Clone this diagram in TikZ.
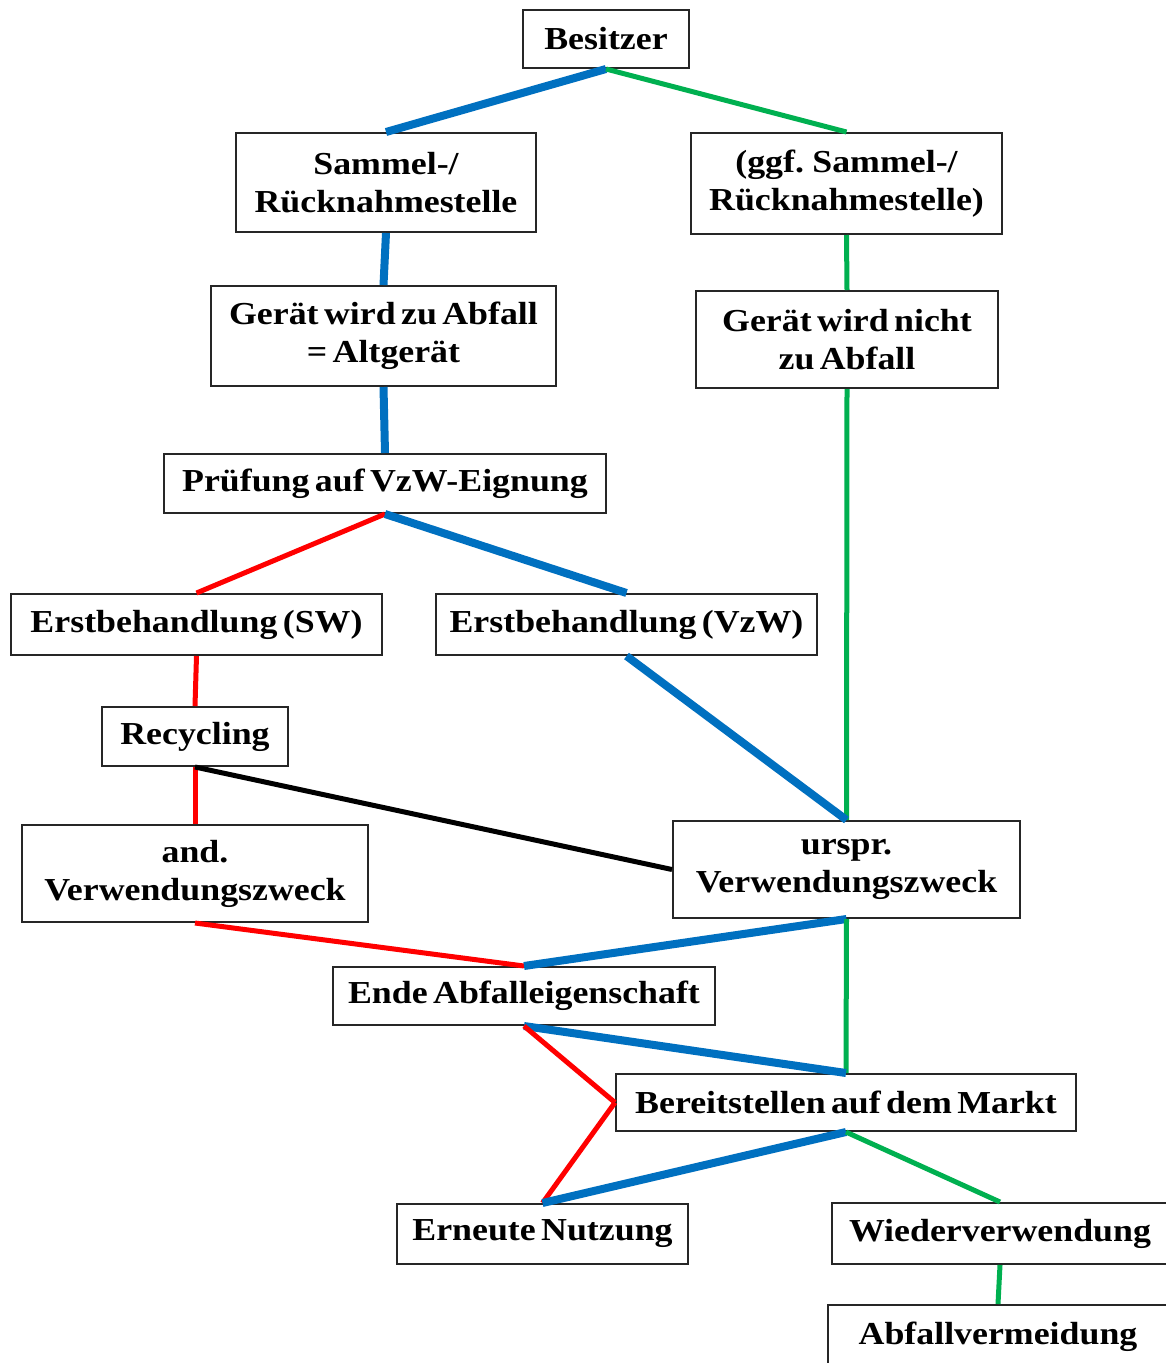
\documentclass[tikz,border=0pt]{standalone}
\usepackage{fontspec}
\setmainfont[WordSpace=0.6,FakeStretch=1.12]{Liberation Serif}
\definecolor{cblue}{RGB}{0,112,192}
\definecolor{cgreen}{RGB}{0,176,80}
\definecolor{cred}{RGB}{255,0,0}
\begin{document}
\begin{tikzpicture}[x=1pt,y=-1pt,
  box/.style={draw=black!85, line width=2pt, inner sep=0pt, align=center,
    font=\bfseries\fontsize{32}{38}\selectfont},
  bl/.style={draw=cblue, line width=8pt},
  gr/.style={draw=cgreen, line width=5pt},
  rd/.style={draw=cred, line width=5pt},
  bk/.style={draw=black, line width=5pt}]
\useasboundingbox (0,0) rectangle (1166,1363);
\fill[white] (0,0) rectangle (1166,1363);

\node[box, minimum width=166pt, minimum height=58pt] (bes) at (606,39) {Besitzer};
\node[box, minimum width=300pt, minimum height=99pt] (sam) at (386,182.5) {Sammel-/\\Rücknahmestelle};
\node[box, minimum width=311pt, minimum height=101pt] (ggf) at (846.5,183.5) {(ggf. Sammel-/\\Rücknahmestelle)};
\node[box, minimum width=345pt, minimum height=100pt] (alt) at (383.5,336) {Gerät wird zu Abfall\\= Altgerät};
\node[box, minimum width=302pt, minimum height=97pt] (nicht) at (847,339.5) {Gerät wird nicht\\zu Abfall};
\node[box, minimum width=442pt, minimum height=59pt] (pru) at (385,483.5) {Prüfung auf VzW-Eignung};
\node[box, minimum width=371pt, minimum height=61pt] (sw) at (196.5,624.5) {Erstbehandlung (SW)};
\node[box, minimum width=381pt, minimum height=61pt] (vzw) at (626.5,624.5) {Erstbehandlung (VzW)};
\node[box, minimum width=186pt, minimum height=59pt] (rec) at (195,736.5) {Recycling};
\node[box, minimum width=346pt, minimum height=97pt] (and) at (195,873.5) {and.\\Verwendungszweck};
\node[box, minimum width=347pt, minimum height=97pt] (urs) at (846.5,869.5) {urspr.\\Verwendungszweck};
\node[box, minimum width=382pt, minimum height=58pt] (ende) at (524,996) {Ende Abfalleigenschaft};
\node[box, minimum width=460pt, minimum height=57pt] (markt) at (846,1102.5) {Bereitstellen auf dem Markt};
\node[box, minimum width=291pt, minimum height=60pt] (ern) at (542.5,1234) {Erneute Nutzung};
\node[box, minimum width=336pt, minimum height=61pt] (wie) at (1000,1233.5) {Wiederverwendung};
\node[box, minimum width=340pt, minimum height=64pt] (vermeid) at (998,1337) {Abfallvermeidung};

\draw[bl] (bes.south) -- (sam.north);
\draw[gr] (bes.south) -- (ggf.north);
\draw[bl] (sam.south) -- (alt.north);
\draw[gr] (ggf.south) -- (nicht.north);
\draw[bl] (alt.south) -- (pru.north);
\draw[gr] (nicht.south) -- (urs.north);
\draw[rd] (pru.south) -- (sw.north);
\draw[bl] (pru.south) -- (vzw.north);
\draw[rd] (sw.south) -- (rec.north);
\draw[rd] (rec.south) -- (and.north);
\draw[bk] (rec.south) -- (urs.west);
\draw[bl] (vzw.south) -- (urs.north);
\draw[rd] (and.south) -- (ende.north);
\draw[bl] (urs.south) -- (ende.north);
\draw[gr] (urs.south) -- (markt.north);
\draw[bl] (ende.south) -- (markt.north);
\draw[rd] (ende.south) -- (markt.west);
\draw[rd] (markt.west) -- (ern.north);
\draw[bl] (markt.south) -- (ern.north);
\draw[gr] (markt.south) -- (wie.north);
\draw[gr] (wie.south) -- (vermeid.north);
\end{tikzpicture}
\end{document}
